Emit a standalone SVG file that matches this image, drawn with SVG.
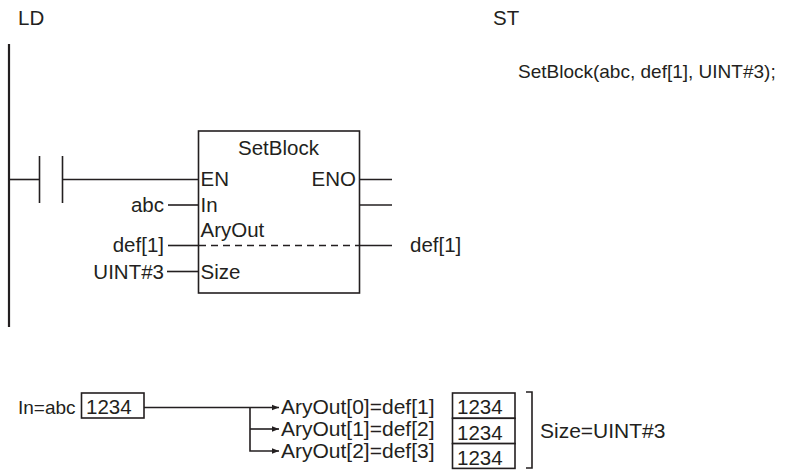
<svg xmlns="http://www.w3.org/2000/svg" width="810" height="470" viewBox="0 0 810 470">
<defs>
<style>
text{font-family:"Liberation Sans",Arial,sans-serif;font-size:20.5px;fill:#231f20}
.sm{font-size:19px}
.lg{font-size:21px}
.ln{stroke:#231f20;stroke-width:1.6;fill:none}
.rail{stroke:#231f20;stroke-width:2.2;fill:none}
.box{stroke:#231f20;stroke-width:1.6;fill:#fff}
.end{text-anchor:end}
.mid{text-anchor:middle}
</style>
<marker id="ah" viewBox="0 0 10 10" refX="10" refY="5" markerWidth="7" markerHeight="7" markerUnits="userSpaceOnUse" orient="auto">
<path d="M0,1 L10,5 L0,9 Z" fill="#231f20"/>
</marker>
</defs>
<rect width="810" height="470" fill="#fff"/>
<g id="headings">
<text x="18" y="25">LD</text>
<text x="493" y="25">ST</text>
<text class="sm" x="518" y="78">SetBlock(abc, def[1], UINT#3);</text>
</g>
<g id="rail"><line class="rail" x1="9" y1="44" x2="9" y2="327"/></g>
<g id="contact">
<line class="ln" x1="39.5" y1="156" x2="39.5" y2="203"/>
<line class="ln" x1="62.5" y1="156" x2="62.5" y2="203"/>
</g>
<g id="setblock">
<rect class="box" x="198.5" y="131" width="161" height="162"/>
<text class="mid" x="278.5" y="155">SetBlock</text>
<text x="200.5" y="186">EN</text>
<text class="end" x="356" y="186">ENO</text>
<text x="200.5" y="212">In</text>
<text x="200.5" y="237">AryOut</text>
<text x="200.5" y="279">Size</text>
<line class="ln" x1="199" y1="245.5" x2="359" y2="245.5" stroke-dasharray="7 5"/>
</g>
<g id="labels">
<text class="end" x="164" y="212">abc</text>
<text class="end" x="164" y="252">def[1]</text>
<text class="end" x="164" y="279">UINT#3</text>
<text x="410" y="252">def[1]</text>
</g>
<g id="connectors">
<line class="ln" x1="9" y1="179.5" x2="39.5" y2="179.5"/>
<line class="ln" x1="62.5" y1="179.5" x2="198.5" y2="179.5"/>
<line class="ln" x1="359.5" y1="179.5" x2="392" y2="179.5"/>
<line class="ln" x1="168" y1="205" x2="198.5" y2="205"/>
<line class="ln" x1="359.5" y1="205" x2="392" y2="205"/>
<line class="ln" x1="168" y1="245.5" x2="198.5" y2="245.5"/>
<line class="ln" x1="359.5" y1="245.5" x2="392" y2="245.5"/>
<line class="ln" x1="167" y1="271.5" x2="198.5" y2="271.5"/>
<path class="ln" d="M144,407.5 H279" marker-end="url(#ah)"/>
<path class="ln" d="M250,407.5 V451 H279" marker-end="url(#ah)"/>
<path class="ln" d="M250,429 H279" marker-end="url(#ah)"/>
<path class="ln" d="M526,392 H532 V468 H526"/>
</g>
<g id="example">
<text class="sm" x="18" y="414">In=abc</text>
<rect class="box" x="81.5" y="393" width="62.5" height="25"/>
<text x="86" y="414">1234</text>
<text class="lg" x="281" y="414">AryOut[0]=def[1]</text>
<text class="lg" x="281" y="436">AryOut[1]=def[2]</text>
<text class="lg" x="281" y="458">AryOut[2]=def[3]</text>
<rect class="box" x="452.5" y="393" width="62.5" height="25.3"/>
<rect class="box" x="452.5" y="418.3" width="62.5" height="25.3"/>
<rect class="box" x="452.5" y="443.6" width="62.5" height="24.8"/>
<text x="457" y="414">1234</text>
<text x="457" y="439.5">1234</text>
<text x="457" y="465">1234</text>
<text class="lg" x="540" y="438">Size=UINT#3</text>
</g>
</svg>
